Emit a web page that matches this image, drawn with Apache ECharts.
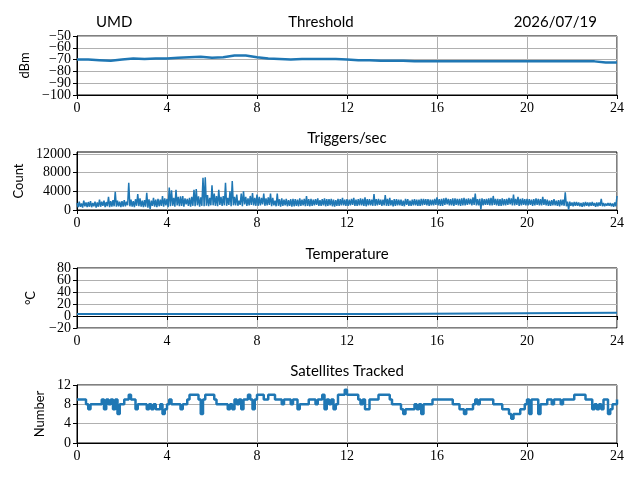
<!DOCTYPE html>
<html>
<head>
<meta charset="utf-8">
<script src="https://cdn.jsdelivr.net/npm/echarts@6/dist/echarts.min.js"></script>
<style>
  html, body { margin: 0; padding: 0; background: #fff; }
  #main { width: 640px; height: 480px; }
</style>
</head>
<body>
<div id="main"></div>
<script>
// tick labels
var hourTicks = [0, 4, 8, 12, 16, 20, 24];
var dbmTicks = [-100, -90, -80, -70, -60, -50];
var countTicks = [0, 4000, 8000, 12000];
var tempTicks = [-20, 0, 20, 40, 60, 80];
var satTicks = [0, 4, 8, 12];

// threshold, dBm, every 0.5 h
var thresholdStep = 0.5;
var thresholdValues = [
  -70, -70, -70.5, -71, -70, -69, -69.5, -69, -69, -68.5,
  -68, -67.5, -68.5, -68, -66.5, -66.5, -68, -69, -69.5, -70,
  -69.5, -69.5, -69.5, -69.5, -70, -70.5, -70.5, -71, -71, -71,
  -71.5, -71.5, -71.5, -71.5, -71.5, -71.5, -71.5, -71.5, -71.5, -71.5,
  -71.5, -71.5, -71.5, -71.5, -71.5, -71.5, -71.5, -72.5, -72.5
];

// triggers per second, every 0.05 h (two rows of ten per hour)
var triggerStep = 0.05;
var triggerValues = [
  1500, 600, 1800, 700, 1400, 500, 2000, 800, 1600, 600,
  1700, 700, 1900, 600, 1500, 800, 1800, 500, 1600, 700,
  2200, 700, 1800, 900, 2000, 600, 1700, 800, 2800, 600,
  1900, 700, 2100, 800, 3900, 700, 2000, 800, 1800, 600,
  1900, 700, 2100, 800, 1800, 1000, 5800, 800, 2200, 700,
  1900, 600, 2300, 900, 3400, 800, 2500, 700, 2000, 600,
  2100, 700, 3700, 500, 2300, 200, 2000, 900, 2600, 700,
  2200, 600, 2400, 800, 2200, 900, 3000, 700, 2500, 1000,
  2400, 600, 4800, 800, 4200, 900, 2600, 700, 4300, 1000,
  2800, 800, 2900, 900, 3000, 700, 2500, 1200, 2400, 900,
  2600, 700, 2800, 900, 4300, 800, 4500, 1000, 2900, 700,
  2700, 900, 6900, 800, 7000, 900, 3200, 800, 2600, 1000,
  5300, 1000, 3500, 900, 3000, 800, 4300, 1100, 2800, 900,
  3000, 1000, 5800, 900, 2600, 1100, 4000, 800, 6200, 1000,
  2800, 1000, 3300, 900, 2000, 1100, 3500, 800, 4000, 1200,
  2800, 900, 2500, 1000, 3000, 1100, 3600, 1000, 2600, 900,
  3300, 900, 2800, 1000, 2600, 1200, 3500, 900, 2500, 1000,
  2700, 1100, 3500, 800, 2600, 1000, 2000, 800, 3500, 900,
  2300, 700, 2500, 900, 2200, 1000, 2400, 800, 2100, 900,
  2300, 700, 2400, 800, 2300, 900, 2200, 800, 2500, 900,
  2200, 1000, 2400, 800, 3000, 900, 2300, 800, 2400, 900,
  2200, 1000, 2300, 1100, 2500, 900, 2100, 900, 2300, 1000,
  2500, 800, 2300, 900, 2300, 1000, 2400, 800, 2200, 700,
  2100, 900, 2400, 900, 2300, 1000, 2600, 1000, 2200, 900,
  2300, 900, 2200, 1000, 2400, 1100, 2600, 900, 2200, 900,
  2300, 1000, 2500, 1000, 2400, 900, 2700, 800, 2300, 1000,
  2300, 1000, 2200, 900, 3400, 900, 2300, 1000, 2400, 1100,
  2200, 900, 2200, 1000, 3200, 900, 2400, 900, 2600, 1000,
  2100, 800, 2300, 900, 2300, 1000, 2200, 1000, 2200, 900,
  2000, 800, 2400, 1100, 2300, 900, 2000, 900, 2200, 1000,
  2300, 1000, 2200, 900, 2200, 900, 2400, 1000, 2400, 1100,
  2300, 1000, 2300, 900, 2200, 1000, 2200, 1000, 2400, 1100,
  2700, 1000, 2300, 900, 2400, 900, 2500, 1100, 2600, 1200,
  2400, 1000, 2300, 1000, 2500, 900, 2500, 1100, 2400, 1000,
  2400, 900, 2500, 1000, 2600, 1000, 2400, 1100, 2500, 1200,
  2400, 1000, 2700, 1100, 3500, 1000, 2300, 1000, 2400, 100,
  2500, 1000, 2300, 1100, 2400, 1100, 2500, 1000, 2600, 1000,
  3000, 1100, 2400, 1000, 2400, 900, 2300, 900, 2500, 1000,
  2300, 1000, 2400, 1100, 2600, 1200, 2500, 1000, 3300, 1000,
  2400, 1100, 2800, 900, 2400, 1000, 2500, 1100, 2300, 1000,
  2400, 1000, 2300, 1100, 2200, 900, 2300, 1000, 2500, 1100,
  2400, 1000, 2300, 1000, 2800, 1100, 2300, 1000, 2200, 900,
  2000, 900, 2100, 1000, 2300, 1000, 2000, 900, 2100, 800,
  2200, 1000, 2200, 900, 3800, 800, 1800, 100, 1800, 900,
  1600, 800, 1700, 900, 1700, 900, 1600, 800, 1500, 700,
  1600, 800, 1700, 900, 1600, 800, 1600, 900, 1700, 900,
  1500, 700, 1600, 800, 1600, 900, 2400, 800, 1500, 800,
  1400, 900, 1500, 900, 1500, 800, 1400, 700, 1600, 800,
  3000
];

// temperature, degrees C, at change points
var tempHours = [0, 13.4, 13.45, 24];
var tempValues = [3.5, 3.5, 5.5, 5.5];

// satellites tracked, every 0.1 h
var satStep = 0.1;
var satValues = [
  9, 9, 9, 9, 8, 7, 8, 8, 8, 8,
  8, 9, 7, 9, 8, 9, 7, 9, 6, 8,
  8, 9, 9, 10, 9, 9, 7, 8, 8, 8,
  8, 7, 8, 7, 8, 7, 7, 8, 6, 7,
  8, 9, 8, 8, 8, 8, 7, 8, 8, 9,
  10, 10, 10, 10, 9, 6, 9, 10, 10, 10,
  10, 9, 8, 8, 8, 8, 8, 7, 8, 7,
  9, 8, 9, 7, 9, 9, 10, 9, 7, 9,
  10, 10, 10, 9, 9, 10, 10, 10, 9, 9,
  9, 8, 9, 9, 9, 8, 9, 9, 7, 8,
  8, 8, 8, 9, 9, 9, 8, 9, 9, 10,
  7, 9, 8, 9, 7, 8, 10, 10, 10, 11,
  10, 10, 10, 10, 10, 9, 8, 9, 7, 7,
  9, 9, 9, 9, 10, 10, 10, 10, 10, 9,
  8, 8, 8, 8, 7, 6, 7, 7, 7, 7,
  8, 7, 8, 6, 8, 8, 8, 8, 9, 9,
  9, 9, 9, 9, 9, 9, 9, 8, 8, 8,
  7, 7, 6, 7, 7, 7, 8, 9, 8, 9,
  9, 9, 9, 9, 9, 8, 8, 8, 8, 7,
  7, 7, 6, 5, 6, 6, 6, 7, 7, 8,
  9, 6, 9, 9, 9, 6, 8, 8, 8, 9,
  9, 8, 9, 9, 9, 8, 9, 9, 9, 9,
  9, 10, 10, 10, 10, 10, 9, 9, 9, 7,
  8, 7, 8, 7, 9, 9, 6, 7, 8, 8,
  9
];

function stepped(values, step) {
  return values.map(function (v, i) { return [+(i * step).toFixed(2), v]; });
}

function minus(v) {
  return v < 0 ? '\u2212' + (-v) : String(v);
}

function evens(arr) { return arr.filter(function (v, i) { return i % 2 === 0; }); }
function odds(arr) { return arr.filter(function (v, i) { return i % 2 === 1; }); }

var blue = '#1f77b4';
var serif = 'Liberation Serif';
var sans = 'Lato';

var grids = [
  { left: 77, width: 540, top: 36, height: 59 },
  { left: 77, width: 540, top: 152, height: 58 },
  { left: 77, width: 540, top: 268, height: 60 },
  { left: 77, width: 540, top: 385, height: 58 }
];
grids.forEach(function (g) {
  g.show = true;
  g.borderColor = '#000';
  g.borderWidth = 1;
  g.containLabel = false;
});

var xAxes = grids.map(function (g, i) {
  return {
    type: 'value', gridIndex: i, min: 0, max: 24, interval: 4,
    axisLine: { lineStyle: { color: '#000', width: 1 } },
    axisTick: { length: 4, lineStyle: { color: '#000' } },
    axisLabel: { color: '#000', fontFamily: serif, fontSize: 14, margin: 6, customValues: hourTicks },
    splitLine: { show: true, lineStyle: { color: '#b0b0b0', width: 1 } }
  };
});

function labelStyle(values) {
  return {
    color: '#000', fontFamily: serif, fontSize: 14, margin: 6,
    hideOverlap: false, showMinLabel: true, showMaxLabel: true,
    customValues: values, formatter: minus
  };
}

// main y axis: line, ticks, grid lines and (some) labels
function yAxis(i, min, max, interval, ticks, labels, name, gap) {
  return {
    type: 'value', gridIndex: i, position: 'left', min: min, max: max, interval: interval,
    name: name, nameLocation: 'middle', nameGap: gap, nameRotate: 90,
    nameTextStyle: { color: '#000', fontFamily: sans, fontSize: 13 },
    axisLine: { show: true, lineStyle: { color: '#000', width: 1 } },
    axisTick: { show: true, length: 4, customValues: ticks, lineStyle: { color: '#000' } },
    axisLabel: labelStyle(labels),
    splitLine: { show: true, lineStyle: { color: '#b0b0b0', width: 1 } }
  };
}

// twin y axis carrying the remaining labels of a crowded axis
function yLabels(i, min, max, interval, labels) {
  return {
    type: 'value', gridIndex: i, position: 'left', offset: 0, min: min, max: max, interval: interval,
    axisLine: { show: false }, axisTick: { show: false }, splitLine: { show: false },
    axisLabel: labelStyle(labels)
  };
}

function label(text, x, y, align) {
  return {
    type: 'text', x: x, y: y,
    style: { text: text, fill: '#000', font: '15px ' + sans, textAlign: align, textVerticalAlign: 'middle' }
  };
}

var option = {
  animation: false,
  backgroundColor: '#fff',
  graphic: [
    label('UMD', 96, 22, 'left'),
    label('Threshold', 321, 22, 'center'),
    label('2026/07/19', 597, 22, 'right'),
    label('Triggers/sec', 347, 138, 'center'),
    label('Temperature', 347, 254, 'center'),
    label('Satellites Tracked', 347, 371, 'center')
  ],
  grid: grids,
  xAxis: xAxes,
  yAxis: [
    yAxis(0, -100, -50, 10, dbmTicks, evens(dbmTicks), 'dBm', 46),
    yAxis(1, 0, 12400, 4000, countTicks, countTicks, 'Count', 50),
    yAxis(2, -20, 80, 20, tempTicks, evens(tempTicks), '\u00b0C', 40),
    yAxis(3, 0, 12, 4, satTicks, satTicks, 'Number', 30),
    yLabels(0, -100, -50, 10, odds(dbmTicks)),
    yLabels(2, -20, 80, 20, odds(tempTicks))
  ],
  series: [
    {
      type: 'line', xAxisIndex: 0, yAxisIndex: 0, showSymbol: false,
      data: stepped(thresholdValues, thresholdStep),
      lineStyle: { color: blue, width: 2.5 }
    },
    {
      type: 'line', xAxisIndex: 1, yAxisIndex: 1, showSymbol: false,
      data: stepped(triggerValues, triggerStep),
      lineStyle: { color: blue, width: 1.5 }
    },
    {
      type: 'line', xAxisIndex: 2, yAxisIndex: 2, showSymbol: false,
      data: tempHours.map(function (h, i) { return [h, tempValues[i]]; }),
      lineStyle: { color: blue, width: 2 }
    },
    {
      type: 'line', xAxisIndex: 3, yAxisIndex: 3, showSymbol: false, step: 'end',
      data: stepped(satValues, satStep),
      lineStyle: { color: blue, width: 2.5 }
    }
  ]
};

var myChart = echarts.init(document.getElementById('main'));
myChart.setOption(option);
</script>
</body>
</html>
